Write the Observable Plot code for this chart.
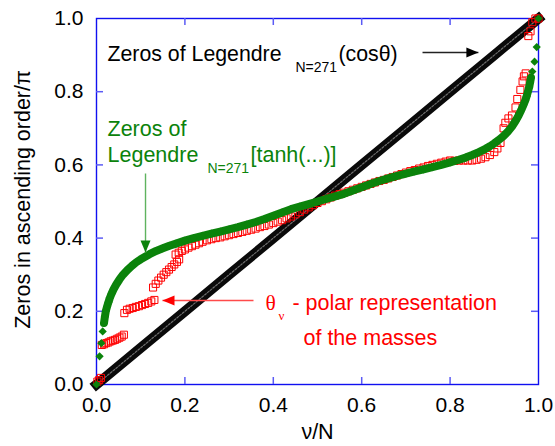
<!DOCTYPE html>
<html><head><meta charset="utf-8">
<script src="https://cdn.jsdelivr.net/npm/d3@7"></script>
<script src="https://cdn.jsdelivr.net/npm/@observablehq/plot@0.6"></script>
<style>body{margin:0;background:#fff} #chart svg{display:block}</style>
</head><body><div id="chart"></div>
<script>
// ---- data ----
const xTicks = [0, 0.2, 0.4, 0.6, 0.8, 1.0];
const yTicks = [0, 0.2, 0.4, 0.6, 0.8, 1.0];

// Zeros of Legendre_N(cos θ) — straight band
const blackX = [0, 0.1, 0.2, 0.3, 0.4, 0.5, 0.6, 0.7, 0.8, 0.9, 1.0];
const blackY = [0, 0.1, 0.2, 0.3, 0.4, 0.5, 0.6, 0.7, 0.8, 0.9, 1.0];

// Zeros of Legendre_N[tanh(...)]
const greenX = [0, 0.007, 0.011, 0.014, 0.017, 0.019, 0.021, 0.024, 0.027, 0.03,
  0.034, 0.039, 0.045, 0.052, 0.06, 0.07, 0.08, 0.09, 0.1, 0.11,
  0.12, 0.135, 0.15, 0.165, 0.18, 0.2, 0.22, 0.24, 0.26, 0.28,
  0.3, 0.32, 0.34, 0.36, 0.38, 0.4, 0.42, 0.44, 0.46, 0.48,
  0.5, 0.52, 0.54, 0.56, 0.58, 0.6, 0.62, 0.64, 0.66, 0.68,
  0.7, 0.72, 0.74, 0.76, 0.78, 0.8, 0.82, 0.835, 0.85, 0.865,
  0.88, 0.89, 0.9, 0.91, 0.92, 0.93, 0.94, 0.948, 0.955, 0.961,
  0.966, 0.97, 0.973, 0.976, 0.979, 0.981, 0.983, 0.986, 0.991, 0.996, 1.0];
const greenY = [0, 0.077, 0.113, 0.145, 0.168, 0.185, 0.2, 0.213, 0.225, 0.236,
  0.248, 0.261, 0.274, 0.287, 0.3, 0.313, 0.324, 0.334, 0.342, 0.349,
  0.356, 0.365, 0.372, 0.379, 0.385, 0.393, 0.4, 0.406, 0.412, 0.418,
  0.424, 0.43, 0.437, 0.444, 0.452, 0.461, 0.47, 0.479, 0.486, 0.493,
  0.5, 0.507, 0.514, 0.521, 0.53, 0.539, 0.548, 0.556, 0.563, 0.57,
  0.576, 0.582, 0.588, 0.594, 0.6, 0.607, 0.614, 0.62, 0.627, 0.635,
  0.644, 0.651, 0.659, 0.668, 0.678, 0.69, 0.705, 0.72, 0.735, 0.75,
  0.764, 0.776, 0.787, 0.8, 0.813, 0.825, 0.838, 0.855, 0.882, 0.922, 1.0];

// θ_ν — polar representation of the masses
const redX = [0.002, 0.006, 0.01,
  0.012, 0.017, 0.022, 0.027, 0.032, 0.037, 0.042, 0.047, 0.052, 0.057, 0.062,
  0.063, 0.069, 0.075, 0.082, 0.089, 0.096, 0.103, 0.11, 0.117, 0.124, 0.131,
  0.128, 0.134, 0.14, 0.146, 0.152, 0.158, 0.164, 0.17, 0.176, 0.182, 0.187,
  0.179, 0.186, 0.193, 0.2, 0.208, 0.216, 0.224, 0.232, 0.24, 0.25, 0.26, 0.27,
  0.28, 0.29, 0.3, 0.31, 0.32, 0.33, 0.34, 0.35, 0.36, 0.37, 0.38, 0.39, 0.4,
  0.41, 0.42, 0.43, 0.44, 0.45, 0.46, 0.47, 0.48, 0.49, 0.5,
  0.51, 0.52, 0.53, 0.54, 0.55, 0.56, 0.57, 0.58, 0.59, 0.6,
  0.61, 0.62, 0.63, 0.64, 0.65, 0.66, 0.67, 0.68, 0.69, 0.7,
  0.71, 0.72, 0.73, 0.74, 0.75, 0.76, 0.77, 0.78, 0.79, 0.8,
  0.81, 0.82, 0.83, 0.84, 0.85, 0.86, 0.87, 0.88, 0.89, 0.9, 0.907, 0.914,
  0.921, 0.925, 0.932, 0.94, 0.948, 0.952, 0.959, 0.964, 0.967, 0.971,
  0.977, 0.982, 0.986, 0.993, 1.0];
const redY = [0.008, 0.012, 0.018,
  0.108, 0.11, 0.113, 0.115, 0.118, 0.12, 0.122, 0.125, 0.128, 0.131, 0.136,
  0.195, 0.204, 0.207, 0.209, 0.212, 0.214, 0.217, 0.22, 0.223, 0.227, 0.231,
  0.265, 0.275, 0.284, 0.292, 0.3, 0.307, 0.314, 0.321, 0.328, 0.335, 0.342,
  0.355, 0.36, 0.365, 0.369, 0.374, 0.378, 0.382, 0.386, 0.39, 0.394, 0.397, 0.4,
  0.402, 0.405, 0.408, 0.411, 0.414, 0.417, 0.42, 0.423, 0.426, 0.43, 0.433,
  0.437, 0.441, 0.445, 0.449, 0.454, 0.459, 0.465, 0.471, 0.478, 0.484, 0.49, 0.496,
  0.501, 0.506, 0.511, 0.516, 0.52, 0.524, 0.528, 0.532, 0.536, 0.54,
  0.544, 0.548, 0.552, 0.556, 0.559, 0.563, 0.567, 0.571, 0.575, 0.579,
  0.583, 0.586, 0.59, 0.593, 0.597, 0.6, 0.603, 0.606, 0.609, 0.612,
  0.611, 0.612, 0.612, 0.612, 0.612, 0.614, 0.617, 0.621, 0.627, 0.635, 0.645, 0.66,
  0.70, 0.715, 0.727, 0.735, 0.757, 0.78, 0.805, 0.828, 0.842, 0.85,
  0.952, 0.965, 0.99, 1.0, 1.0];

// ---- tables ----
const black = blackX.map((x, i) => ({x, y: blackY[i]}));
const green = greenX.map((x, i) => ({x, y: greenY[i]}));
const red = redX.map((x, i) => ({x, y: redY[i]}));
const greenBand = green.filter(d => d.x > 0.016 && d.x < 0.984);

// ---- styling ----
const GREEN = "#0b830b", RED = "#ff0000", BLUE = "#1010f0", TICKBLUE = "#5b5bf5";
const W = 555, H = 446, ML = 96, MR = 17, MT = 18, MB = 62;
const innerW = W - ML - MR, innerH = H - MT - MB;
const TL = 7;

// arrowhead symbols (tip at origin)
const headRight = {draw(c) { c.moveTo(0, 0); c.lineTo(-12, -5); c.lineTo(-12, 5); c.closePath(); }};
const headLeft  = {draw(c) { c.moveTo(0, 0); c.lineTo(12, -5); c.lineTo(12, 5); c.closePath(); }};
const headDown  = {draw(c) { c.moveTo(0, 0); c.lineTo(-5, -12); c.lineTo(5, -12); c.closePath(); }};

const arrows = [
  {x1: 0.7376, y1: 0.907, x2: 0.864, y2: 0.907, line: "#222", head: "#000", sym: headRight},
  {x1: 0.1109, y1: 0.5765, x2: 0.1109, y2: 0.3607, line: "#5fb35f", head: GREEN, sym: headDown},
  {x1: 0.3552, y1: 0.2295, x2: 0.1493, y2: 0.2295, line: "#ff4a4a", head: RED, sym: headLeft}
];

const labels = [
  {text: "Zeros of Legendre", x: 0.0249, y: 0.885, size: 21.3, color: "#000", font: null},
  {text: "N=271", x: 0.450, y: 0.855, size: 14, color: "#000", font: null},
  {text: "(cosθ)", x: 0.5475, y: 0.885, size: 21.3, color: "#000", font: null},
  {text: "Zeros of", x: 0.0249, y: 0.680, size: 21.5, color: GREEN, font: null},
  {text: "Legendre", x: 0.0249, y: 0.6066, size: 21.5, color: GREEN, font: null},
  {text: "N=271", x: 0.2511, y: 0.5792, size: 14, color: GREEN, font: null},
  {text: "[tanh(...)]", x: 0.3484, y: 0.6066, size: 21.5, color: GREEN, font: null},
  {text: "θ", x: 0.3824, y: 0.2049, size: 21.5, color: RED, font: "Liberation Serif, serif"},
  {text: "ν", x: 0.4118, y: 0.1749, size: 13, color: RED, font: "Liberation Serif, serif"},
  {text: "- polar representation", x: 0.4434, y: 0.2049, size: 21.5, color: RED, font: null},
  {text: "of the masses", x: 0.4683, y: 0.1066, size: 21.5, color: RED, font: null}
];

const marks = [
  Plot.frame({stroke: BLUE, strokeWidth: 1.4}),
  // inward ticks
  Plot.tickX(xTicks.slice(1, -1), {x: d => d, insetTop: innerH - TL, stroke: TICKBLUE, strokeWidth: 1.5}),
  Plot.tickX(xTicks.slice(1, -1), {x: d => d, insetBottom: innerH - TL, stroke: TICKBLUE, strokeWidth: 1.5}),
  Plot.tickY(yTicks.slice(1, -1), {y: d => d, insetRight: innerW - TL, stroke: TICKBLUE, strokeWidth: 1.5}),
  Plot.tickY(yTicks.slice(1, -1), {y: d => d, insetLeft: innerW - TL, stroke: TICKBLUE, strokeWidth: 1.5}),
  Plot.axisX({ticks: xTicks, tickSize: 0, tickPadding: 13, tickFormat: d3.format(".1f"), fontSize: 21, label: null}),
  Plot.axisY({ticks: yTicks, tickSize: 0, tickPadding: 13, tickFormat: d3.format(".1f"), fontSize: 21, label: null}),
  Plot.text(["ν/N"], {frameAnchor: "bottom", textAnchor: "middle", dy: 54, fontSize: 21.5, fill: "#000"}),
  Plot.text(["Zeros in ascending order/π"], {frameAnchor: "left", textAnchor: "middle", dx: -73, dy: -2, rotate: -90, fontSize: 21.5, fill: "#000"}),
  // black band
  Plot.line(black, {x: "x", y: "y", stroke: "#0a0a0a", strokeWidth: 10, strokeLinecap: "square"}),
  Plot.line(black, {x: "x", y: "y", stroke: "#6e6e6e", strokeWidth: 1.2, strokeDasharray: "2 1.6"}),
  // red open squares
  Plot.dot(red, {x: "x", y: "y", symbol: "square", r: 4.0, stroke: RED, fill: "none", strokeWidth: 1}),
  // green diamonds
  Plot.line(greenBand, {x: "x", y: "y", stroke: GREEN, strokeWidth: 8, strokeLinecap: "round", strokeLinejoin: "round"}),
  Plot.dot(green, {x: "x", y: "y", symbol: "diamond2", r: 3.7, fill: GREEN, stroke: "none"}),
  // arrows
  ...arrows.map(a => Plot.link([a], {x1: "x1", y1: "y1", x2: "x2", y2: "y2", stroke: a.line, strokeWidth: 1.4})),
  ...arrows.map(a => Plot.dot([a], {x: "x2", y: "y2", symbol: a.sym, r: 5, fill: a.head, stroke: "none"})),
  // annotation texts
  ...labels.map(l => Plot.text([l], {x: "x", y: "y", text: "text", textAnchor: "start", lineAnchor: "bottom",
      fontSize: l.size, fill: l.color, ...(l.font ? {fontFamily: l.font} : {})}))
];

const chart = Plot.plot({
  width: W, height: H,
  marginLeft: ML, marginRight: MR, marginTop: MT, marginBottom: MB,
  x: {domain: [0, 1]},
  y: {domain: [0, 1]},
  style: {fontFamily: "Liberation Sans, Arial, sans-serif", background: "#fff", color: "#000", overflow: "visible"},
  marks
});
document.getElementById("chart").appendChild(chart);
</script>
</body></html>
